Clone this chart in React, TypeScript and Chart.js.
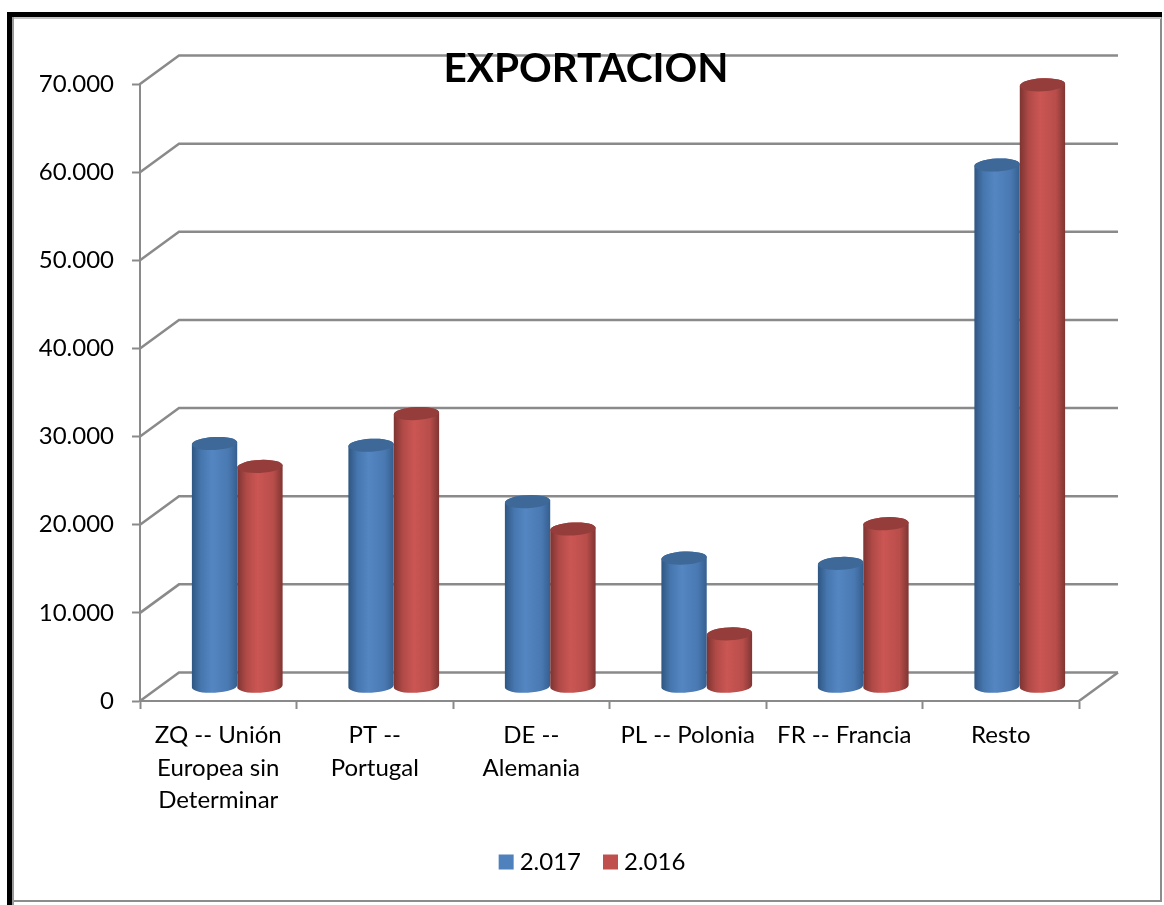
import React, { useEffect, useRef } from "react";
import { Chart, registerables } from "chart.js";

Chart.register(...registerables);

const categories = [
  ["ZQ -- Unión", "Europea sin", "Determinar"],
  ["PT --", "Portugal"],
  ["DE --", "Alemania"],
  "PL -- Polonia",
  "FR -- Francia",
  "Resto",
];
const values2017 = [27600, 27400, 21000, 14600, 14000, 59200];
const values2016 = [25000, 31000, 17900, 6000, 18500, 68300];
const titleText = "EXPORTACION";
const FONT = "Lato, Carlito, Calibri, sans-serif";
const GRID = "#8a8a8a";

const DEPTH_X = 39;
const DEPTH_Y = 28.5;

const shades = [
  { left: "#2f5681", a: "#4676ae", mid: "#5486c2", b: "#4a79b2", right: "#355f90", top: "#3d6897" },
  { left: "#7d3432", a: "#b04a47", mid: "#cb5653", b: "#b84d4a", right: "#7f3533", top: "#953d3b" },
];

const wallPlugin = {
  id: "wall3d",
  afterLayout(chart: any) {
    // the legend sits slightly right of the page centre
    chart.legend.left += 18;
  },
  beforeDraw(chart: any) {
    const { ctx, width, height, chartArea, scales } = chart;
    const { left, right, bottom } = chartArea;
    ctx.save();
    ctx.fillStyle = "#ffffff";
    ctx.fillRect(0, 0, width, height);
    ctx.fillStyle = "#8c8c8c";
    ctx.fillRect(1160, 17, 2, 885);
    ctx.fillRect(12, 900, 1150, 2);
    ctx.fillStyle = "#c4c4c4";
    ctx.fillRect(12, 17, 1149, 2);
    ctx.fillStyle = "#9a9a9a";
    ctx.fillRect(12, 17, 2, 888);
    ctx.fillStyle = "#000000";
    ctx.fillRect(7, 12, 1155, 5);
    ctx.fillRect(7, 12, 5, 893);

    ctx.strokeStyle = GRID;
    ctx.lineWidth = 2.5;
    scales.y.ticks.forEach((t: any) => {
      const y = scales.y.getPixelForValue(t.value);
      ctx.beginPath();
      ctx.moveTo(left, y);
      ctx.lineTo(left + DEPTH_X, y - DEPTH_Y);
      ctx.lineTo(right + DEPTH_X, y - DEPTH_Y);
      ctx.stroke();
    });
    ctx.beginPath();
    ctx.moveTo(right, bottom);
    ctx.lineTo(right + DEPTH_X, bottom - DEPTH_Y);
    ctx.stroke();
    ctx.restore();
  },
  beforeDatasetsDraw(chart: any) {
    const { ctx } = chart;
    // cylinders stand halfway into the floor
    chart.data.datasets.forEach((_: any, di: number) => {
      const s = shades[di];
      chart.getDatasetMeta(di).data.forEach((bar: any) => {
        const dx = DEPTH_X / 2 - 0.5;
        const dy = DEPTH_Y / 2;
        const cx = bar.x + dx;
        const rx = bar.width / 2;
        const ry = 6.5;
        const tilt = -0.05;
        const topY = bar.y - dy;
        const baseY = bar.base - dy;
        const g = ctx.createLinearGradient(cx - rx, 0, cx + rx, 0);
        g.addColorStop(0, s.left);
        g.addColorStop(0.2, s.a);
        g.addColorStop(0.45, s.mid);
        g.addColorStop(0.8, s.b);
        g.addColorStop(1, s.right);
        ctx.save();
        ctx.fillStyle = g;
        ctx.beginPath();
        ctx.ellipse(cx, topY, rx, ry, tilt, Math.PI, 0, false);
        ctx.ellipse(cx, baseY, rx, ry, tilt, 0, Math.PI, false);
        ctx.closePath();
        ctx.fill();
        ctx.fillStyle = s.top;
        ctx.beginPath();
        ctx.ellipse(cx, topY, rx, ry, tilt, 0, Math.PI * 2);
        ctx.fill();
        ctx.restore();
      });
    });
    return false;
  },
};

export default function App() {
  const ref = useRef<HTMLCanvasElement | null>(null);
  useEffect(() => {
    document.body.style.margin = "0";
    const chart = new Chart(ref.current as HTMLCanvasElement, {
      type: "bar",
      data: {
        labels: categories as any,
        datasets: [
          { label: "2.017", data: values2017, backgroundColor: "#4f81bd" },
          { label: "2.016", data: values2016, backgroundColor: "#c0504d" },
        ],
      },
      plugins: [wallPlugin],
      options: {
        animation: false,
        responsive: false,
        layout: { padding: { left: 8, right: 0, top: 0, bottom: 21 } },
        datasets: { bar: { categoryPercentage: 0.58, barPercentage: 1 } },
        plugins: {
          tooltip: { enabled: false },
          title: {
            display: true,
            text: titleText,
            color: "#000000",
            font: { family: FONT, size: 40.5, weight: "bold" },
            padding: { top: 45, bottom: -9.5 },
          },
          legend: {
            position: "bottom",
            labels: {
              color: "#000000",
              font: { family: FONT, size: 24 },
              usePointStyle: true,
              pointStyle: "rect",
              boxWidth: 3,
              boxHeight: 15,
              padding: 28,
            },
          },
        },
        scales: {
          x: {
            afterFit: (s: any) => { s.height = 121; },
            border: { color: GRID, width: 2 },
            grid: { drawOnChartArea: false, drawTicks: true, tickLength: 8, tickColor: GRID, tickWidth: 2, offset: true },
            ticks: {
              color: "#000000",
              maxRotation: 0,
              autoSkip: false,
              padding: 10,
              font: { family: FONT, size: 24, lineHeight: 1.36 },
            },
          },
          y: {
            min: 0,
            max: 70000,
            afterFit: (s: any) => { s.width = 132; },
            border: { color: GRID, width: 2 },
            grid: { drawOnChartArea: false, drawTicks: true, tickLength: 8, tickColor: GRID, tickWidth: 2 },
            ticks: {
              stepSize: 10000,
              color: "#000000",
              padding: 18,
              font: { family: FONT, size: 24 },
              callback: (v: any) => (v === 0 ? "0" : `${v / 1000}.000`),
            },
          },
          spacer: {
            type: "linear",
            position: "right",
            display: true,
            afterFit: (s: any) => { s.width = 85; },
            border: { display: false },
            grid: { display: false },
            ticks: { display: false },
          },
        },
      } as any,
    });
    return () => chart.destroy();
  }, []);
  return (
    <canvas
      ref={ref}
      width={1164}
      height={905}
      style={{ display: "block", width: 1164, height: 905 }}
    />
  );
}
